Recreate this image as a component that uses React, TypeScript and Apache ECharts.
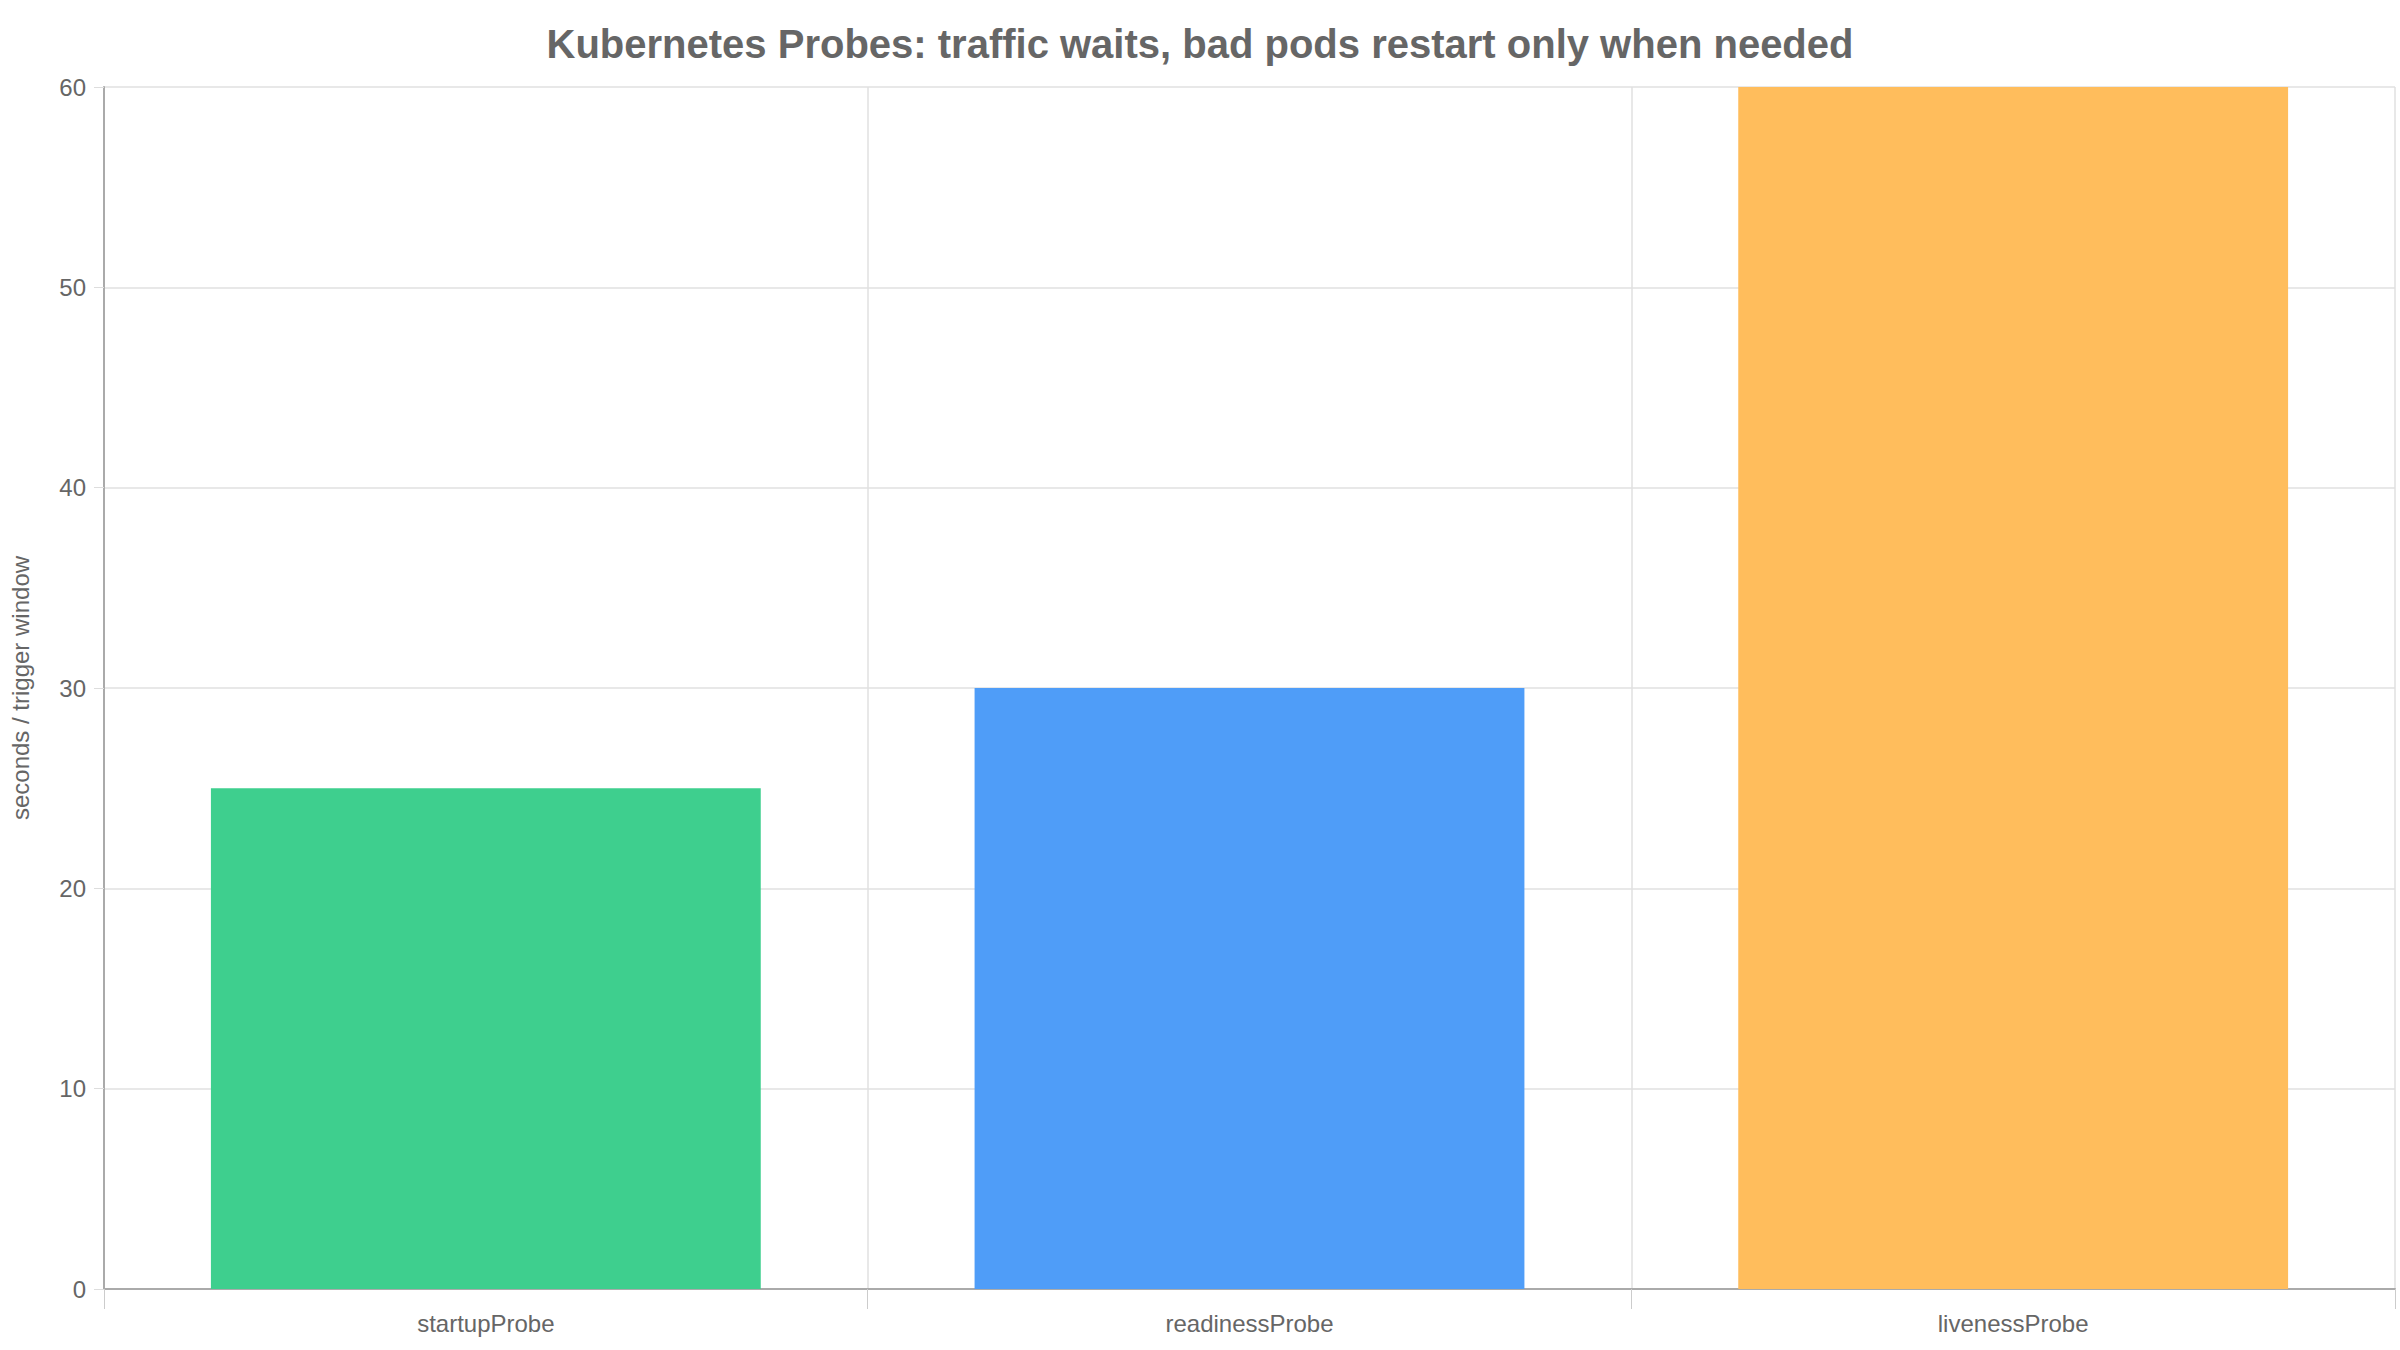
import React, { useEffect, useRef } from 'react'
import * as echarts from 'echarts'

// 数据
const probes = ['startupProbe', 'readinessProbe', 'livenessProbe']
const seconds = [25, 30, 60]
const barColors = ['#3ECF8E', '#4F9DF8', '#FFBD5C']

const titleText = 'Kubernetes Probes: traffic waits, bad pods restart only when needed'
const yName = 'seconds / trigger window'

export default function App() {
  const chartRef = useRef<HTMLDivElement>(null)

  useEffect(() => {
    if (!chartRef.current) return
    document.body.style.margin = '0'

    const chart = echarts.init(chartRef.current, undefined, { renderer: 'svg' })

    const option = {
      animation: false,
      backgroundColor: '#ffffff',
      textStyle: { fontFamily: 'Liberation Sans, Arial, sans-serif' },
      title: {
        text: titleText,
        left: 'center',
        top: 19,
        textStyle: {
          color: '#666666',
          fontSize: 40,
          fontWeight: 'bold',
          fontFamily: 'Liberation Sans, Arial, sans-serif'
        }
      },
      grid: {
        left: 103,
        right: 5,
        top: 87,
        bottom: 61
      },
      xAxis: {
        type: 'category',
        data: probes,
        axisLine: { show: true, lineStyle: { color: '#aaaaaa', width: 2 } },
        axisTick: { show: true, length: 20, lineStyle: { color: '#cccccc' } },
        axisLabel: { color: '#666666', fontSize: 24, margin: 22 },
        splitLine: { show: true, lineStyle: { color: '#e0e0e0', width: 1.5 } }
      },
      yAxis: {
        type: 'value',
        min: 0,
        max: 60,
        interval: 10,
        name: yName,
        nameLocation: 'middle',
        nameGap: 72,
        nameTextStyle: { color: '#666666', fontSize: 24 },
        axisLine: { show: true, lineStyle: { color: '#aaaaaa', width: 2 } },
        axisTick: { show: true, length: 10, lineStyle: { color: '#dddddd' } },
        axisLabel: { color: '#666666', fontSize: 24, margin: 18 },
        splitLine: { show: true, lineStyle: { color: '#e0e0e0', width: 1.5 } }
      },
      series: [
        {
          type: 'bar',
          barCategoryGap: '28%',
          data: seconds.map((v, i) => ({ value: v, itemStyle: { color: barColors[i] } }))
        }
      ]
    }

    chart.setOption(option)

    const handleResize = () => chart.resize()
    window.addEventListener('resize', handleResize)

    return () => {
      window.removeEventListener('resize', handleResize)
      chart.dispose()
    }
  }, [])

  return <div ref={chartRef} style={{ width: '2400px', height: '1350px' }} />
}
